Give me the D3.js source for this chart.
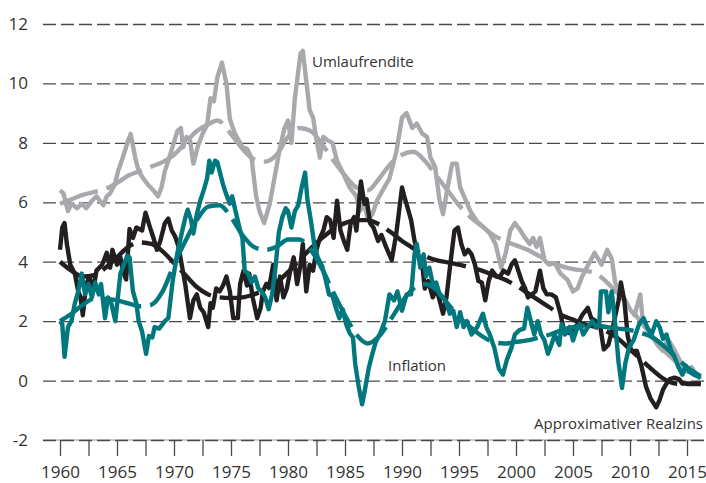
<!DOCTYPE html>
<html>
<head>
<meta charset="utf-8">
<script src="https://cdn.jsdelivr.net/npm/d3@7/dist/d3.min.js"></script>
<style>
  html, body { margin: 0; padding: 0; background: #fff; }
  svg { display: block; }
  text { font-family: "Open Sans", "Noto Sans", sans-serif; fill: #333; }
</style>
</head>
<body>
<svg id="chart" width="706" height="483"></svg>
<script>
// Axis ticks
const yTicks = [-2, 0, 2, 4, 6, 8, 10, 12];
const xTicks = d3.range(1960, 2015.01, 2.5);

// Umlaufrendite (quarterly, % p.a.)
const umlauf = [
  [1960.0,6.4],[1960.3,6.3],[1960.7,5.7],[1961.0,5.95],[1961.5,5.8],[1961.9,5.95],[1962.3,5.8],[1962.8,6.05],
  [1963.2,6.2],[1963.5,6.05],[1963.8,5.9],[1964.1,6.2],[1964.4,6.3],[1964.8,6.6],[1965.1,7.05],[1965.5,7.5],
  [1966.0,8.1],[1966.2,8.3],[1966.6,7.5],[1966.9,7.05],[1967.3,6.8],[1967.7,6.6],[1968.2,6.4],[1968.6,6.2],
  [1968.9,6.5],[1969.2,7.05],[1969.5,7.4],[1969.9,7.9],[1970.3,8.4],[1970.6,8.5],[1970.8,7.85],[1971.1,8.2],
  [1971.4,8.1],[1971.7,7.3],[1972.1,7.9],[1972.5,8.3],[1972.9,8.6],[1973.2,9.5],[1973.5,9.4],[1973.8,10.2],
  [1974.2,10.7],[1974.6,10.0],[1974.9,8.8],[1975.35,8.3],[1975.8,8.0],[1976.0,7.85],[1976.4,7.8],[1976.8,7.5],
  [1977.2,6.2],[1977.5,5.7],[1977.9,5.3],[1978.4,5.95],[1978.9,7.0],[1979.3,7.85],[1979.7,8.5],[1980.0,8.75],
  [1980.3,8.0],[1980.6,9.5],[1981.1,11.0],[1981.3,11.1],[1981.6,10.1],[1981.9,9.1],[1982.2,8.85],[1982.5,8.1],
  [1982.8,7.5],[1983.1,8.2],[1983.4,8.1],[1983.9,8.0],[1984.3,7.4],[1984.8,7.0],[1985.4,6.5],[1986.0,6.2],
  [1986.3,5.7],[1986.7,5.95],[1987.0,5.4],[1987.4,5.6],[1987.8,6.05],[1988.3,6.4],[1988.9,6.8],[1989.5,7.7],
  [1990.0,8.85],[1990.4,9.0],[1990.9,8.5],[1991.3,8.65],[1991.8,8.3],[1992.2,8.2],[1992.5,7.5],[1992.9,7.2],
  [1993.3,6.05],[1993.6,5.6],[1994.0,6.5],[1994.4,7.3],[1994.8,7.3],[1995.1,6.5],[1995.5,6.15],[1996.0,5.7],
  [1996.6,5.35],[1997.2,5.15],[1997.7,4.95],[1998.2,4.6],[1998.7,3.8],[1999.1,4.3],[1999.5,5.05],[1999.9,5.3],
  [2000.3,5.1],[2000.8,4.8],[2001.2,4.6],[2001.5,4.8],[2001.8,4.5],[2002.1,4.8],[2002.5,4.05],[2002.9,3.9],
  [2003.4,3.95],[2003.9,3.6],[2004.5,3.4],[2005.0,3.0],[2005.4,3.1],[2005.8,3.5],[2006.2,3.8],[2006.9,4.3],
  [2007.5,3.9],[2008.0,4.4],[2008.4,4.1],[2008.7,3.3],[2009.1,2.95],[2009.6,2.7],[2010.0,2.4],[2010.4,2.2],
  [2010.9,2.9],[2011.1,2.1],[2011.6,1.7],[2012.0,1.45],[2012.5,1.15],[2012.9,1.0],[2013.3,1.4],[2013.8,1.1],
  [2014.2,0.8],[2014.6,0.5],[2015.0,0.3],[2015.4,0.45],[2015.8,0.2],[2016.2,0.05]
];
const umlaufTrend = [
  [1960,5.95],[1961,6.1],[1962,6.25],[1963,6.35],[1964,6.45],[1965,6.65],[1966,6.9],[1967,7.05],[1968,7.2],
  [1969,7.35],[1970,7.6],[1971,8.0],[1972,8.4],[1973,8.62],[1973.8,8.75],[1975,8.3],[1976,7.8],[1977,7.45],
  [1978,7.37],[1979,7.6],[1980,8.2],[1981,8.5],[1982,8.4],[1983,7.95],[1984,7.4],[1985,6.9],[1986,6.5],
  [1987,6.4],[1988,6.8],[1989,7.3],[1990,7.6],[1991,7.7],[1992,7.4],[1993,6.9],[1994,6.4],[1995,5.9],
  [1996,5.5],[1997,5.2],[1998,4.9],[1999,4.7],[2000,4.55],[2001,4.4],[2002,4.2],[2003,4.0],[2004,3.85],
  [2005,3.75],[2006,3.7],[2007,3.6],[2008,3.3],[2009,2.9],[2010,2.45],[2011,1.95],[2012,1.45],[2013,1.0],
  [2014,0.65],[2015,0.35],[2016.2,0.1]
];

// Approximativer Realzins
const realzins = [
  [1960.0,4.4],[1960.2,5.15],[1960.4,5.3],[1960.6,4.6],[1960.9,3.9],[1961.3,3.6],[1961.6,3.0],[1961.8,2.8],
  [1962.0,2.2],[1962.3,3.25],[1962.6,3.5],[1962.9,3.0],[1963.2,3.7],[1963.7,3.9],[1964.1,4.3],[1964.4,3.8],
  [1964.6,4.4],[1965.0,3.9],[1965.3,4.15],[1965.5,3.7],[1965.8,3.4],[1966.1,5.1],[1966.4,4.8],[1966.7,5.15],
  [1967.2,5.05],[1967.5,5.65],[1967.9,5.15],[1968.2,4.8],[1968.5,4.4],[1968.8,4.7],[1969.2,5.3],[1969.5,5.45],
  [1969.8,5.05],[1970.1,4.85],[1970.4,4.5],[1970.7,3.85],[1971.0,3.2],[1971.4,2.1],[1971.7,2.7],[1972.0,2.9],
  [1972.3,2.45],[1972.6,2.3],[1973.0,1.8],[1973.2,2.6],[1973.4,2.45],[1973.7,3.1],[1974.0,3.0],[1974.3,3.2],
  [1974.6,3.5],[1974.9,3.0],[1975.2,2.1],[1975.6,2.1],[1975.8,3.25],[1976.1,3.7],[1976.4,3.2],[1976.6,3.6],
  [1976.9,2.8],[1977.3,2.1],[1977.6,2.45],[1977.8,3.0],[1978.1,3.25],[1978.4,3.25],[1978.7,3.9],[1979.0,2.7],
  [1979.3,3.5],[1979.6,2.8],[1979.9,3.1],[1980.2,3.7],[1980.5,4.15],[1980.8,3.25],[1981.1,3.9],[1981.3,4.6],
  [1981.6,3.0],[1981.9,3.9],[1982.2,3.7],[1982.5,4.4],[1982.8,4.8],[1983.1,5.05],[1983.4,5.5],[1983.7,5.4],
  [1984.0,4.8],[1984.3,6.05],[1984.6,5.05],[1984.9,4.7],[1985.2,4.4],[1985.5,5.3],[1985.8,5.5],[1986.0,5.05],
  [1986.4,6.7],[1986.7,5.95],[1986.9,6.1],[1987.2,5.3],[1987.5,5.15],[1987.9,4.7],[1988.2,4.9],[1988.6,4.5],
  [1989.1,4.05],[1989.5,4.95],[1990.0,6.5],[1990.2,6.2],[1990.5,5.8],[1990.8,5.4],[1991.1,4.7],[1991.4,4.25],
  [1991.8,3.8],[1992.0,3.1],[1992.3,3.35],[1992.7,2.8],[1993.0,3.1],[1993.3,2.7],[1993.6,2.25],[1993.9,2.8],
  [1994.2,3.8],[1994.6,5.05],[1994.9,5.15],[1995.2,4.6],[1995.5,4.25],[1995.8,4.4],[1996.1,4.25],[1996.4,3.9],
  [1996.7,3.35],[1997.0,3.3],[1997.3,2.7],[1997.6,3.35],[1997.9,3.7],[1998.3,3.5],[1998.6,3.5],[1998.9,3.7],
  [1999.3,3.6],[1999.6,3.9],[1999.9,4.05],[2000.2,3.7],[2000.5,3.35],[2000.8,3.1],[2001.05,2.8],[2001.4,2.9],
  [2001.7,3.0],[2002.1,3.7],[2002.4,3.1],[2002.7,2.9],[2003.1,2.9],[2003.5,2.8],[2003.9,2.25],[2004.2,1.7],
  [2004.6,1.6],[2005.0,1.7],[2005.4,1.9],[2005.8,2.2],[2006.3,2.45],[2006.6,2.1],[2007.0,2.0],[2007.4,1.8],
  [2007.7,1.05],[2008.1,1.2],[2008.5,1.8],[2009.0,2.7],[2009.2,3.3],[2009.5,2.7],[2009.8,1.5],[2010.1,1.0],
  [2010.6,1.0],[2011.0,0.5],[2011.4,-0.2],[2011.8,-0.6],[2012.3,-0.9],[2012.6,-0.65],[2012.9,-0.3],[2013.2,-0.1],
  [2013.5,0.05],[2013.9,0.1],[2014.3,0.05],[2014.6,-0.1],[2015.1,-0.1],[2015.6,-0.1],[2016.2,-0.1]
];
const realzinsTrend = [
  [1960,4.0],[1961,3.7],[1962,3.5],[1963,3.55],[1964,3.8],[1965,4.15],[1966,4.5],[1967,4.65],[1968,4.6],
  [1969,4.35],[1970,3.95],[1971,3.55],[1972,3.15],[1973,2.9],[1974,2.8],[1975,2.78],[1976,2.8],[1977,2.9],
  [1978,3.05],[1979,3.3],[1980,3.65],[1981,4.05],[1982,4.45],[1983,4.8],[1984,5.1],[1985,5.3],[1986,5.4],
  [1987,5.4],[1988,5.25],[1989,5.0],[1990,4.7],[1991,4.45],[1992,4.2],[1993,4.05],[1994,3.98],[1995,3.9],
  [1996,3.8],[1997,3.7],[1998,3.55],[1999,3.4],[2000,3.2],[2001,2.95],[2002,2.7],[2003,2.45],[2004,2.2],
  [2005,2.05],[2006,1.9],[2007,1.8],[2008,1.65],[2009,1.4],[2010,1.05],[2011,0.7],[2012,0.35],[2013,0.05],
  [2014,-0.1],[2015,-0.12],[2016.2,-0.12]
];

// Inflation
const inflation = [
  [1960.0,2.0],[1960.2,1.9],[1960.4,0.8],[1960.7,1.8],[1961.0,2.0],[1961.3,2.6],[1961.6,3.0],[1961.9,3.6],
  [1962.2,2.9],[1962.5,3.25],[1962.8,2.8],[1963.1,3.3],[1963.4,2.9],[1963.6,3.25],[1963.95,2.1],[1964.2,2.8],
  [1964.5,2.6],[1964.85,2.0],[1965.3,3.6],[1965.9,4.2],[1966.1,4.15],[1966.4,3.0],[1966.7,2.6],[1966.9,2.0],
  [1967.2,1.65],[1967.55,0.9],[1967.8,1.5],[1968.1,1.45],[1968.3,1.8],[1968.7,1.75],[1969.2,2.0],[1969.5,2.1],
  [1969.9,3.4],[1970.3,4.3],[1970.7,5.0],[1971.0,5.5],[1971.2,5.75],[1971.5,5.4],[1971.7,4.95],[1972.0,5.6],
  [1972.3,6.05],[1972.6,6.4],[1972.9,6.8],[1973.1,7.4],[1973.3,7.0],[1973.6,7.4],[1973.8,7.35],[1974.0,7.05],
  [1974.3,6.6],[1974.6,6.25],[1974.9,5.95],[1975.1,6.2],[1975.4,5.7],[1975.8,5.05],[1976.0,4.8],[1976.2,3.7],
  [1976.5,3.6],[1976.8,3.3],[1977.1,3.5],[1977.4,3.1],[1977.7,3.0],[1978.0,2.8],[1978.3,2.4],[1978.6,2.9],
  [1978.9,3.8],[1979.2,5.0],[1979.5,5.5],[1979.8,5.8],[1980.0,5.7],[1980.3,5.15],[1980.6,5.7],[1980.9,5.9],
  [1981.2,6.5],[1981.5,7.0],[1981.7,6.1],[1982.0,5.4],[1982.3,4.6],[1982.6,4.15],[1983.0,3.85],[1983.3,3.4],
  [1983.6,2.9],[1983.9,2.85],[1984.2,2.45],[1984.5,2.1],[1984.8,2.4],[1985.1,1.9],[1985.4,1.6],[1985.7,1.45],
  [1985.9,0.55],[1986.2,-0.2],[1986.5,-0.8],[1986.8,-0.2],[1987.1,0.45],[1987.4,0.9],[1987.7,1.3],[1988.1,1.6],
  [1988.5,2.0],[1988.9,2.9],[1989.3,2.7],[1989.6,3.0],[1990.0,2.35],[1990.4,2.9],[1990.8,2.9],[1991.1,4.25],
  [1991.3,4.6],[1991.6,3.8],[1991.9,4.25],[1992.1,3.5],[1992.4,3.8],[1992.7,3.25],[1993.0,3.3],[1993.3,2.9],
  [1993.8,2.7],[1994.2,2.25],[1994.5,2.35],[1994.8,1.8],[1995.1,2.3],[1995.4,1.8],[1995.7,2.0],[1996.1,1.55],
  [1996.6,1.8],[1997.1,2.25],[1997.4,1.8],[1997.7,1.55],[1998.1,1.1],[1998.5,0.4],[1998.85,0.2],[1999.2,0.7],
  [1999.6,1.1],[1999.9,1.55],[2000.3,1.7],[2000.7,1.75],[2001.0,2.45],[2001.3,2.0],[2001.6,1.55],[2001.9,2.0],
  [2002.2,1.55],[2002.5,1.35],[2002.8,0.9],[2003.1,1.2],[2003.4,1.55],[2003.8,1.2],[2004.0,1.9],[2004.3,1.55],
  [2004.7,1.8],[2005.0,1.35],[2005.3,1.7],[2005.6,1.9],[2005.9,1.55],[2006.3,1.8],[2006.7,2.0],[2007.0,1.8],
  [2007.3,1.9],[2007.45,3.0],[2007.9,3.0],[2008.1,2.3],[2008.4,3.0],[2008.7,1.9],[2009.0,0.6],[2009.3,-0.25],
  [2009.6,0.6],[2009.9,1.1],[2010.3,1.35],[2010.8,1.9],[2011.2,2.1],[2011.5,1.8],[2011.9,1.55],[2012.3,2.0],
  [2012.6,1.8],[2012.9,1.4],[2013.2,1.55],[2013.6,1.0],[2013.9,0.8],[2014.2,0.5],[2014.6,0.2],[2014.9,0.5],
  [2015.2,0.3],[2015.6,0.2],[2016.2,0.1]
];
const inflationTrend = [
  [1960,2.0],[1961,2.25],[1962,2.55],[1963,2.75],[1964,2.75],[1965,2.7],[1966,2.6],[1967,2.5],[1968,2.55],
  [1969,3.0],[1970,3.9],[1971,4.7],[1972,5.4],[1973,5.85],[1974,5.9],[1975,5.5],[1976,4.9],[1977,4.5],
  [1978,4.4],[1979,4.5],[1980,4.75],[1981,4.75],[1982,4.4],[1983,3.75],[1984,2.95],[1985,2.2],[1986,1.55],
  [1987,1.25],[1988,1.5],[1989,2.05],[1990,2.65],[1991,3.1],[1992,3.25],[1993,3.05],[1994,2.6],[1995,2.15],
  [1996,1.8],[1997,1.5],[1998,1.3],[1999,1.25],[2000,1.3],[2001,1.35],[2002,1.45],[2003,1.55],[2004,1.7],
  [2005,1.8],[2006,1.85],[2007,1.85],[2008,1.8],[2009,1.75],[2010,1.7],[2011,1.6],[2012,1.45],[2013,1.15],
  [2014,0.8],[2015,0.45],[2016.2,0.15]
];

const svg = d3.select("#chart");
const plotLeft = 43, plotRight = 704;

const x = d3.scaleLinear().domain([1960, 2015]).range([60, 687]);
const y = d3.scaleLinear().domain([-2, 12]).range([440, 24]);

// baseline under the -2 grid line
svg.append("line")
  .attr("x1", plotLeft).attr("x2", plotRight)
  .attr("y1", y(-2)).attr("y2", y(-2))
  .attr("stroke", "#9a9a9a").attr("stroke-width", 1.2);

// horizontal dashed grid with value labels
const yAxis = d3.axisLeft(y)
  .tickValues(yTicks)
  .tickSize(-(plotRight - plotLeft))
  .tickPadding(15)
  .tickFormat(d => d < 0 ? "-" + Math.abs(d) : String(d));
const gy = svg.append("g")
  .attr("transform", `translate(${plotLeft},0)`)
  .call(yAxis);
gy.select(".domain").remove();
gy.selectAll(".tick line")
  .attr("stroke", "#4a4a4a")
  .attr("stroke-width", 1.3)
  .attr("stroke-dasharray", "13,5");
gy.selectAll(".tick text")
  .attr("font-size", 17)
  .attr("font-family", "'Open Sans', sans-serif")
  .attr("fill", "#333");

// year ticks along the bottom
const xAxis = d3.axisBottom(x)
  .tickValues(xTicks)
  .tickSize(16)
  .tickPadding(10)
  .tickFormat(d => d % 5 === 0 ? String(d) : "");
const gx = svg.append("g")
  .attr("transform", `translate(0,${y(-2)})`)
  .call(xAxis);
gx.select(".domain").remove();
gx.selectAll(".tick line").attr("stroke", "#4a4a4a").attr("stroke-width", 1.3);
gx.selectAll(".tick text")
  .attr("font-size", 17)
  .attr("font-family", "'Open Sans', sans-serif")
  .attr("fill", "#333");

const solid = d3.line().x(d => x(d[0])).y(d => y(d[1])).curve(d3.curveLinear);
const smooth = d3.line().x(d => x(d[0])).y(d => y(d[1])).curve(d3.curveMonotoneX);

const series = [
  { raw: umlauf, trend: umlaufTrend, color: "#a7a9ac" },
  { raw: realzins, trend: realzinsTrend, color: "#231f20" },
  { raw: inflation, trend: inflationTrend, color: "#00787e" }
];

const marks = svg.append("g");
series.forEach(s => {
  marks.append("path")
    .datum(s.trend)
    .attr("d", smooth)
    .attr("fill", "none")
    .attr("stroke", s.color)
    .attr("stroke-width", 4.4)
    .attr("stroke-dasharray", "40,9");
  marks.append("path")
    .datum(s.raw)
    .attr("d", solid)
    .attr("fill", "none")
    .attr("stroke", s.color)
    .attr("stroke-width", 4.4)
    .attr("stroke-linejoin", "round");
});

// series labels
const labels = [
  { text: "Umlaufrendite", x: 312, y: 62, anchor: "start" },
  { text: "Inflation", x: 388, y: 366, anchor: "start" },
  { text: "Approximativer Realzins", x: 703, y: 424, anchor: "end" }
];
svg.append("g").selectAll("text")
  .data(labels)
  .join("text")
  .attr("x", d => d.x)
  .attr("y", d => d.y)
  .attr("dy", "0.35em")
  .attr("text-anchor", d => d.anchor)
  .attr("font-size", 15)
  .attr("fill", "#333")
  .text(d => d.text);
</script>
</body>
</html>
